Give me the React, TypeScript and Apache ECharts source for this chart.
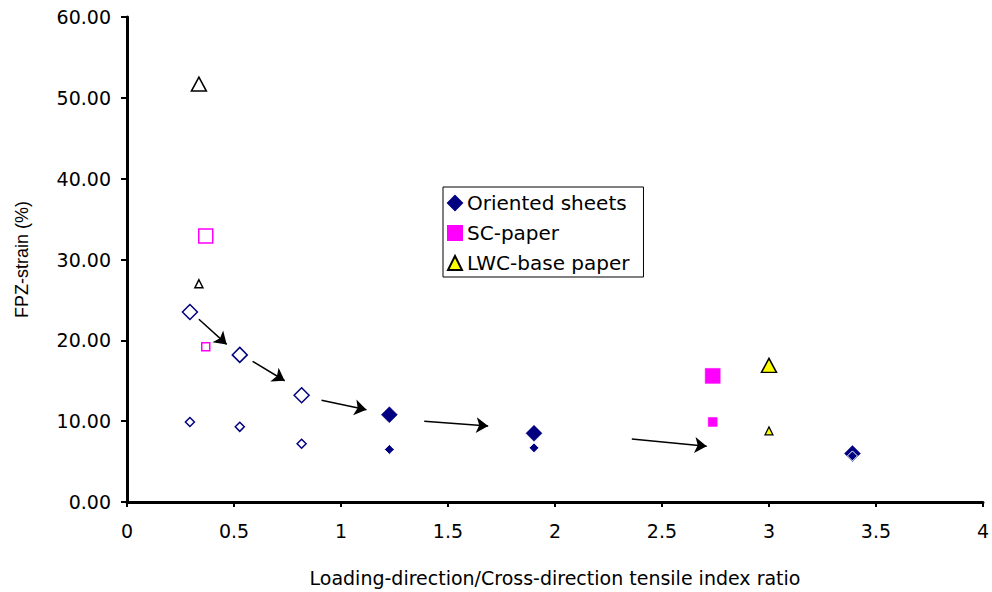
import React, { useEffect, useRef } from "react";
import * as echarts from "echarts";

// Oriented sheets (navy diamonds)
const orientedLargeHollow = [[0.294, 23.5], [0.527, 18.2], [0.816, 13.2]];
const orientedLargeFilled = [[1.226, 10.8], [1.902, 8.5], [3.39, 6.0]];
const orientedSmallHollow = [[0.294, 9.9], [0.527, 9.3], [0.816, 7.2]];
const orientedSmallFilled = [[1.226, 6.5], [1.902, 6.7], [3.39, 5.7]];

// SC-paper (magenta squares)
const scLargeHollow = [[0.368, 32.9]];
const scSmallHollow = [[0.368, 19.2]];
const scLargeFilled = [[2.737, 15.6]];
const scSmallFilled = [[2.737, 9.9]];

// LWC-base paper (yellow triangles)
const lwcLargeHollow = [[0.336, 51.7]];
const lwcSmallHollow = [[0.336, 27.0]];
const lwcLargeFilled = [[3.0, 16.9]];
const lwcSmallFilled = [[3.0, 8.8]];

// Annotation arrows [from, to] in data coordinates
const arrows = [
  [[0.336, 22.6], [0.466, 19.5]],
  [[0.587, 17.4], [0.737, 15.0]],
  [[0.909, 12.6], [1.119, 11.4]],
  [[1.389, 10.0], [1.688, 9.4]],
  [[2.359, 7.8], [2.709, 6.9]],
];

const legendNames = ["Oriented sheets", "SC-paper", "LWC-base paper"];
const yTicks = [0, 10, 20, 30, 40, 50, 60];
const xTicks = [0, 0.5, 1, 1.5, 2, 2.5, 3, 3.5, 4];

const NAVY = "#000080";
const MAGENTA = "#ff00ff";
const YELLOW = "#ffff00";
const WIDE = "'DejaVu Sans', sans-serif";
const ARIAL = "'Liberation Sans', Arial, sans-serif";

function scatter(
  name: string,
  data: number[][],
  symbol: string,
  size: number | number[],
  fill: string,
  border: string,
  bw: number,
  z = 3
) {
  return {
    type: "scatter",
    name,
    data,
    symbol,
    symbolSize: size,
    z,
    itemStyle: { color: fill, borderColor: border, borderWidth: bw, opacity: 1 },
    emphasis: { disabled: true },
  };
}

export default function App() {
  const ref = useRef<HTMLDivElement>(null);
  useEffect(() => {
    if (!ref.current) return;
    const chart = echarts.init(ref.current, null, { renderer: "svg" });
    chart.setOption({
      animation: false,
      backgroundColor: "#fff",
      textStyle: { fontFamily: WIDE },
      grid: { left: 127, right: 7, top: 17, bottom: 90, containLabel: false },
      legend: {
        orient: "vertical",
        left: 443,
        top: 187,
        data: [
          { name: legendNames[0], icon: "diamond" },
          { name: legendNames[1], icon: "rect" },
          { name: legendNames[2], icon: "triangle" },
        ],
        itemWidth: 14,
        itemHeight: 14,
        itemGap: 10,
        borderColor: "#000",
        borderWidth: 1,
        borderRadius: 0,
        padding: [6, 14, 4, 4],
        backgroundColor: "#fff",
        textStyle: { fontSize: 20, color: "#000", fontFamily: WIDE },
      },
      xAxis: {
        type: "value",
        min: xTicks[0],
        max: xTicks[xTicks.length - 1],
        interval: 0.5,
        name: "Loading-direction/Cross-direction tensile index ratio",
        nameLocation: "middle",
        nameGap: 66,
        nameTextStyle: { fontSize: 19, color: "#000", fontFamily: WIDE },
        axisLine: { onZero: false, lineStyle: { color: "#000", width: 3 } },
        axisTick: { show: true, inside: false, length: 5, lineStyle: { color: "#000", width: 2 } },
        axisLabel: { fontSize: 19, color: "#000", margin: 19, fontFamily: WIDE },
        splitLine: { show: false },
      },
      yAxis: {
        type: "value",
        min: yTicks[0],
        max: yTicks[yTicks.length - 1],
        interval: 10,
        name: "FPZ-strain (%)",
        nameLocation: "middle",
        nameGap: 96,
        nameTextStyle: { fontSize: 18, color: "#000", fontFamily: ARIAL },
        axisLine: { onZero: false, lineStyle: { color: "#000", width: 3 } },
        axisTick: { show: true, inside: false, length: 6, lineStyle: { color: "#000", width: 2 } },
        axisLabel: {
          fontSize: 19,
          color: "#000",
          margin: 16,
          fontFamily: WIDE,
          formatter: (v: number) => v.toFixed(2),
        },
        splitLine: { show: false },
      },
      series: [
        scatter("oriented-large-hollow", orientedLargeHollow, "diamond", 15, "#fff", NAVY, 1.5),
        scatter(legendNames[0], orientedLargeFilled, "diamond", 16, NAVY, NAVY, 0.5),
        scatter("oriented-small-hollow", orientedSmallHollow, "diamond", 9, "#fff", NAVY, 1.5, 4),
        scatter("oriented-small-filled", orientedSmallFilled, "diamond", 10, NAVY, "#fff", 1, 4),
        scatter("sc-large-hollow", scLargeHollow, "rect", 14, "#fff", MAGENTA, 1.5),
        scatter("sc-small-hollow", scSmallHollow, "rect", 8, "#fff", MAGENTA, 1.5),
        scatter(legendNames[1], scLargeFilled, "rect", 15, MAGENTA, MAGENTA, 0.5),
        scatter("sc-small-filled", scSmallFilled, "rect", 9, MAGENTA, MAGENTA, 0.5),
        scatter("lwc-large-hollow", lwcLargeHollow, "triangle", [15, 14], "#fff", "#000", 1.5),
        scatter("lwc-small-hollow", lwcSmallHollow, "triangle", 8, "#fff", "#000", 1.5),
        scatter(legendNames[2], lwcLargeFilled, "triangle", [15, 14], YELLOW, "#000", 1.5),
        scatter("lwc-small-filled", lwcSmallFilled, "triangle", 8, YELLOW, "#000", 1.2),
        {
          type: "lines",
          coordinateSystem: "cartesian2d",
          data: arrows.map((c) => ({ coords: c })),
          symbol: ["none", "arrow"],
          symbolSize: [9, 12],
          lineStyle: { color: "#000", width: 1.5, opacity: 1 },
          z: 5,
          silent: true,
        },
      ],
    });
    return () => chart.dispose();
  }, []);
  return (
    <div
      ref={ref}
      style={{ position: "absolute", left: 0, top: 0, width: 992, height: 592 }}
    />
  );
}
